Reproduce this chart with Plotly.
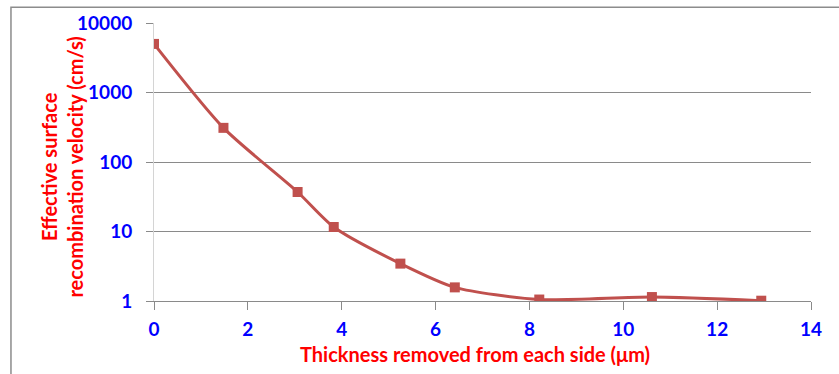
import plotly.graph_objects as go

# Thickness removed from each side (µm) and effective surface recombination velocity (cm/s)
thickness_um = [0, 1.48, 3.06, 3.83, 5.25, 6.41, 8.21, 10.61, 12.94]
srv_cm_s = [5000, 310, 37, 11.6, 3.45, 1.57, 1.05, 1.14, 1.01]

y_tick_vals = [1, 10, 100, 1000, 10000]
y_tick_text = ["1", "10", "100", "1000", "10000"]
x_tick_vals = [0, 2, 4, 6, 8, 10, 12, 14]

line_color = "#c0504d"
label_blue = "#0000ff"
title_red = "#ff0000"
grid_gray = "#8a8a8a"

fig = go.Figure()
fig.add_trace(go.Scatter(
    x=thickness_um,
    y=srv_cm_s,
    mode="lines+markers",
    line=dict(color=line_color, width=3, shape="spline", smoothing=0.7),
    marker=dict(symbol="square", size=10, color=line_color),
    showlegend=False,
))

tick_font = dict(family="Lato", size=19, color=label_blue, weight="bold")
title_font = dict(family="Lato", size=20, color=title_red, weight="bold")

fig.update_xaxes(
    range=[0, 14],
    tickvals=x_tick_vals,
    showgrid=False,
    zeroline=False,
    showline=True,
    linecolor=grid_gray,
    linewidth=1,
    ticks="outside",
    ticklen=8,
    tickcolor=grid_gray,
    tickfont=tick_font,
    ticklabelstandoff=3,
)
fig.update_yaxes(
    type="log",
    range=[0, 4],
    tickvals=y_tick_vals,
    ticktext=y_tick_text,
    showgrid=True,
    gridcolor=grid_gray,
    gridwidth=1,
    zeroline=False,
    showline=True,
    linecolor="#d4d4d4",
    linewidth=1,
    ticks="outside",
    ticklen=7,
    tickcolor=grid_gray,
    tickfont=tick_font,
    ticklabelstandoff=10,
)

fig.add_annotation(
    text="Thickness removed from each side (μm)",
    xref="paper", yref="paper", x=0.489, y=-0.19,
    xanchor="center", yanchor="middle", showarrow=False,
    font=title_font,
)
fig.add_annotation(
    text="Effective surface<br>recombination velocity (cm/s)",
    xref="paper", yref="paper", x=-0.14, y=0.48,
    xanchor="center", yanchor="middle", showarrow=False,
    textangle=-90, font=title_font,
)

# chart frame
fig.add_shape(
    type="rect", xref="paper", yref="paper",
    x0=-0.2177, x1=1.2, y0=-0.5, y1=1.057,
    line=dict(color="#8c8c8c", width=1.5),
    fillcolor="rgba(0,0,0,0)", layer="below",
)

fig.update_layout(
    width=839, height=374,
    margin=dict(l=154, r=28, t=23, b=73),
    paper_bgcolor="white",
    plot_bgcolor="white",
)

fig.write_html("out.html")
